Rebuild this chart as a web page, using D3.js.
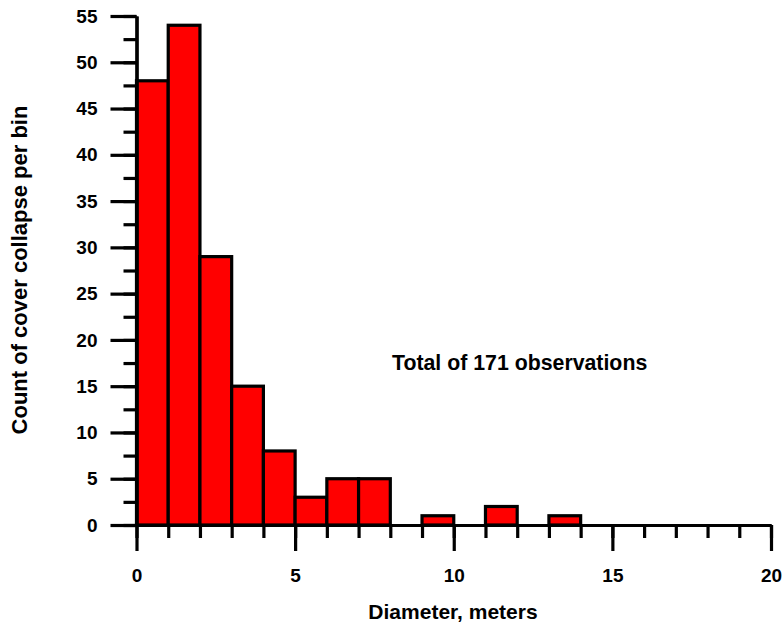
<!DOCTYPE html>
<html>
<head>
<meta charset="utf-8">
<script src="https://cdn.jsdelivr.net/npm/d3@7"></script>
<style>
  body { margin: 0; background: #fff; }
  svg text { font-family: "Liberation Sans", Arial, sans-serif; font-weight: bold; fill: #000; }
  .axis path, .axis line { stroke: #000; stroke-width: 3.2; }
</style>
</head>
<body>
<svg id="chart" width="782" height="623"></svg>
<script>
// bin edges (meters) and counts per 1 m bin
const binStarts = [0, 1, 2, 3, 4, 5, 6, 7, 8, 9, 10, 11, 12, 13];
const counts = [48, 54, 29, 15, 8, 3, 5, 5, 0, 1, 0, 2, 0, 1];
const xMajorTicks = [0, 5, 10, 15, 20];
const yMajorTicks = [0, 5, 10, 15, 20, 25, 30, 35, 40, 45, 50, 55];

const width = 782;
const height = 623;
const padding = { left: 136.5, right: 11, top: 16, bottom: 98 };

const svg = d3.select("#chart");

const x = d3
  .scaleLinear()
  .domain([0, 20])
  .range([padding.left, width - padding.right]);
const y = d3
  .scaleLinear()
  .domain([0, 55])
  .range([height - padding.bottom, padding.top]);

const data = binStarts.map((d, i) => ({ x0: d, x1: d + 1, count: counts[i] }));

svg
  .append("g")
  .selectAll("rect")
  .data(data.filter((d) => d.count > 0))
  .join("rect")
  .attr("x", (d) => x(d.x0))
  .attr("y", (d) => y(d.count))
  .attr("width", (d) => x(d.x1) - x(d.x0))
  .attr("height", (d) => y(0) - y(d.count))
  .attr("fill", "#ff0000")
  .attr("stroke", "#000")
  .attr("stroke-width", 3.2);

// minor ticks first, then majors with labels
svg
  .append("g")
  .attr("class", "axis")
  .attr("transform", `translate(0,${y(0)})`)
  .call(d3.axisBottom(x).tickValues(d3.range(0, 21, 1)).tickSize(13).tickSizeOuter(0).tickFormat(""));
svg
  .append("g")
  .attr("class", "axis")
  .attr("transform", `translate(0,${y(0)})`)
  .call(d3.axisBottom(x).tickValues(xMajorTicks).tickSize(26).tickSizeOuter(0).tickPadding(18))
  .call((g) => g.selectAll("text").style("font-size", "19px"));

svg
  .append("g")
  .attr("class", "axis")
  .attr("transform", `translate(${x(0)},0)`)
  .call(d3.axisLeft(y).tickValues(d3.range(0, 56, 2.5)).tickSize(13).tickSizeOuter(0).tickFormat(""));
svg
  .append("g")
  .attr("class", "axis")
  .attr("transform", `translate(${x(0)},0)`)
  .call(d3.axisLeft(y).tickValues(yMajorTicks).tickSize(26).tickSizeOuter(0).tickPadding(13))
  .call((g) => g.selectAll("text").style("font-size", "19px"));

svg
  .append("text")
  .attr("x", 453)
  .attr("y", 619)
  .attr("text-anchor", "middle")
  .style("font-size", "21px")
  .text("Diameter, meters");

svg
  .append("text")
  .attr("transform", "translate(27,270) rotate(-90)")
  .attr("text-anchor", "middle")
  .style("font-size", "22px")
  .text("Count of cover collapse per bin");

svg
  .append("text")
  .attr("x", 392)
  .attr("y", 370)
  .style("font-size", "21.3px")
  .text("Total of 171 observations");
</script>
</body>
</html>
